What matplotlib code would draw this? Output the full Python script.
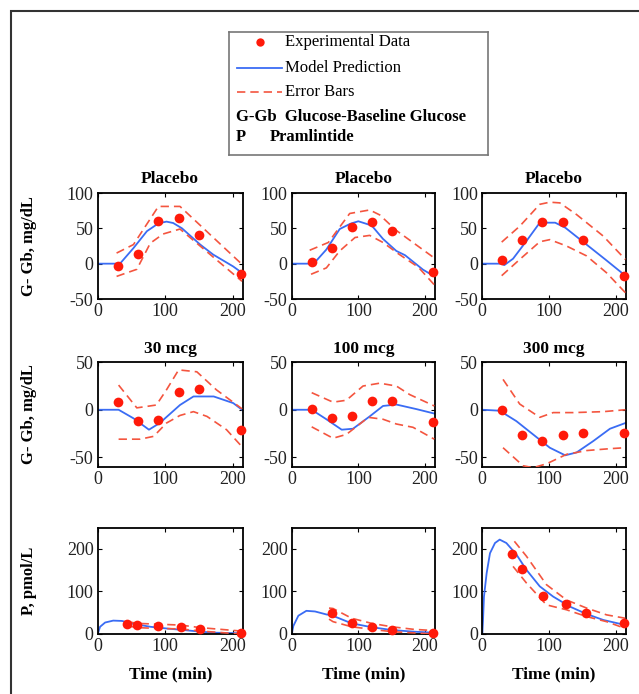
import numpy as np
import matplotlib
matplotlib.use('Agg')
import matplotlib.pyplot as plt
from matplotlib.lines import Line2D
from matplotlib.patches import Rectangle

plt.rcParams['font.family'] = ['Liberation Serif', 'DejaVu Serif']
plt.rcParams['axes.unicode_minus'] = False

# ---------------------------------------------------------------------------
# Glucose panels (G - Gb, mg/dL); observation times shared by rows 1-2
obs_t = [30, 60, 90, 120, 150, 212]

# Placebo (1)
a_obs = [-4, 13, 61, 65, 40, -14]
a_mt  = [0, 33, 53, 73, 90, 102, 112, 125, 152, 171, 201, 214]
a_m   = [0, 0, 22, 46, 57, 59.5, 57.5, 50, 27, 13, -4, -13]
a_ut  = [28, 53, 90, 122, 214]
a_u   = [15, 27, 81, 81, -1]
a_lt  = [28, 58, 78, 97, 122, 214]
a_l   = [-18, -8, 29, 42, 49, -25]

# Placebo (2)
b_obs = [2.4, 21.7, 51.7, 59, 46, -12]
b_mt  = [0, 33, 52, 72, 88, 100, 120, 137, 157, 170, 197, 214]
b_m   = [0, 0, 20, 49, 56.5, 60, 54, 35, 18, 12, -8.5, -18]
b_ut  = [27, 55, 87, 117, 132, 157, 214]
b_u   = [19, 30, 71, 76, 69, 47, 8]
b_lt  = [29, 52, 72, 95, 117, 137, 160, 190, 214]
b_l   = [-15, -6, 18, 37, 40, 30, 14, -5, -30]

# Placebo (3)
c_obs = [5, 34, 59, 59, 34, -17]
c_mt  = [0, 28, 33, 46, 66, 86, 109, 124, 156, 184, 214]
c_m   = [0, 0, -2, 7, 32, 58, 58, 51, 27, 6, -17]
c_ut  = [29, 56, 86, 101, 116, 141, 181, 214]
c_u   = [30.5, 53, 84, 87, 86, 69.5, 39, 6]
c_lt  = [29, 56, 86, 101, 126, 156, 186, 214]
c_l   = [-17, 6, 31, 34, 25, 11, -13, -41]

# 30 mcg
d_obs = [8, -12, -11, 19, 22, -21]
d_mt  = [0, 31, 53, 76, 92, 122, 142, 172, 201, 214]
d_m   = [0, 0, -9, -21, -14, 5, 14, 14, 7, 0]
d_ut  = [31, 58, 87, 102, 120, 147, 176, 214]
d_u   = [26, 2, 5, 21, 42, 40, 21, 1]
d_lt  = [31, 63, 83, 102, 122, 142, 162, 191, 214]
d_l   = [-31, -31, -28, -14, -6, -2, -7, -21, -39]

# 100 mcg
e_obs = [1, -9, -7, 9, 9, -12.6]
e_mt  = [0, 30, 52, 75, 92, 117, 137, 157, 187, 214]
e_m   = [0, 0, -10, -21, -20, -7, 4, 5.5, 0.7, -4]
e_ut  = [30, 62, 82, 107, 132, 157, 177, 214]
e_u   = [18, 8, 10, 25, 28, 25, 16, 4]
e_lt  = [30, 62, 82, 115, 137, 157, 182, 214]
e_l   = [-18, -30, -26, -8, -10, -15, -18.5, -31]

# 300 mcg
f_obs = [0, -27, -33, -27, -24, -24]
f_mt  = [0, 26, 51, 76, 101, 124, 141, 166, 191, 214]
f_m   = [0, -1, -12, -26, -40, -48, -45, -33, -20, -14]
f_ut  = [31, 56, 86, 106, 136, 181, 214]
f_u   = [32, 6, -8, -3, -3, -2, 0]
f_lt  = [31, 61, 76, 96, 126, 156, 191, 214]
f_l   = [-40, -59, -61, -57, -47, -43, -41, -40]

# Pramlintide panels (P, pmol/L)
g_ot  = [44, 59, 90, 123, 152, 212]
g_obs = [24, 20, 18, 16.5, 11, 3]
g_mt  = [0, 3.5, 11, 23, 36, 53, 78, 102, 127, 152, 176, 214]
g_m   = [0, 17, 27, 31.5, 30.7, 24, 17, 13, 9.4, 5.5, 3, 1.6]
g_ut  = [44, 59, 90, 123, 152, 212]
g_u   = [29, 25, 23, 21, 15, 7]
g_lt  = [44, 59, 90, 123, 152, 212]
g_l   = [19, 15, 13, 12, 7, 0]

h_ot  = [60, 90, 120, 150, 212]
h_obs = [49, 27, 16, 9.5, 3]
h_mt  = [0, 2.5, 10, 22, 35, 52, 60, 90, 120, 150, 183, 214]
h_m   = [0, 19, 43, 54.5, 53, 46, 44, 25, 16, 9.4, 5.5, 3]
h_ut  = [56, 62, 90, 120, 150, 183, 214]
h_u   = [61, 60, 37, 25, 17, 11, 8]
h_lt  = [56, 62, 90, 120, 150, 214]
h_l   = [35, 29, 17, 11, 5.5, 0]

i_ot  = [45, 60, 91, 125, 155, 212]
i_obs = [189, 153, 90, 71, 49, 25]
i_mt  = [0, 1, 2.5, 6.5, 11.5, 19, 26, 36, 51, 66, 86, 106, 131, 156, 181, 214]
i_m   = [0, 30, 88, 143, 190, 214, 222, 214, 187, 151, 112, 88, 64.5, 47, 33, 21]
i_ut  = [48, 66, 96, 126, 156, 186, 214]
i_u   = [218, 183, 116, 80, 61, 45, 37]
i_lt  = [46, 66, 96, 126, 156, 186, 214]
i_l   = [159, 120, 68.5, 57, 41, 29, 13]

titles_row1 = ['Placebo', 'Placebo', 'Placebo']
titles_row2 = ['30 mcg', '100 mcg', '300 mcg']
ylabel_glu = 'G- Gb, mg/dL'
ylabel_p = 'P, pmol/L'
xlabel = 'Time (min)'

# ---------------------------------------------------------------------------
W, H = 639, 694
fig = plt.figure(figsize=(W / 100, H / 100), dpi=100)

COL_X = [(97.7, 242.7), (291.7, 435), (482.3, 626)]
ROW_Y = [(193, 299), (362.3, 466.7), (527.7, 634)]

BLUE = '#3a6cf4'
RED = '#ff1a0a'
ERR = '#f4553f'


def px_axes(x0, x1, y0, y1):
    return fig.add_axes([x0 / W, 1 - y1 / H, (x1 - x0) / W, (y1 - y0) / H])


def panel(ax, ot, obs, mt, m, ut, u, lt, l):
    ax.plot(mt, m, color=BLUE, lw=1.3, zorder=2)
    ax.plot(ut, u, color=ERR, lw=1.2, ls=(0, (5, 3)), zorder=3)
    ax.plot(lt, l, color=ERR, lw=1.2, ls=(0, (5, 3)), zorder=3)
    ax.plot(ot, obs, 'o', color=RED, ms=7, mec='none', zorder=4, clip_on=False)
    ax.set_xlim(0, 215)
    ax.set_xticks([0, 100, 200])
    ax.tick_params(direction='in', top=True, right=True, length=3, width=0.8,
                   labelsize=13, pad=3, labelcolor='#222222')
    for s in ax.spines.values():
        s.set_linewidth(1.3)


rows = [
    [(obs_t, a_obs, a_mt, a_m, a_ut, a_u, a_lt, a_l),
     (obs_t, b_obs, b_mt, b_m, b_ut, b_u, b_lt, b_l),
     (obs_t, c_obs, c_mt, c_m, c_ut, c_u, c_lt, c_l)],
    [(obs_t, d_obs, d_mt, d_m, d_ut, d_u, d_lt, d_l),
     (obs_t, e_obs, e_mt, e_m, e_ut, e_u, e_lt, e_l),
     (obs_t, f_obs, f_mt, f_m, f_ut, f_u, f_lt, f_l)],
    [(g_ot, g_obs, g_mt, g_m, g_ut, g_u, g_lt, g_l),
     (h_ot, h_obs, h_mt, h_m, h_ut, h_u, h_lt, h_l),
     (i_ot, i_obs, i_mt, i_m, i_ut, i_u, i_lt, i_l)],
]

for r, row in enumerate(rows):
    for c, args in enumerate(row):
        ax = px_axes(*COL_X[c], *ROW_Y[r])
        panel(ax, *args)
        if r == 0:
            ax.set_ylim(-50, 100)
            ax.set_yticks([-50, 0, 50, 100])
            ax.set_title(titles_row1[c], fontsize=12.5, fontweight='bold', pad=7)
        elif r == 1:
            ax.set_ylim(-60, 50)
            ax.set_yticks([-50, 0, 50])
            ax.set_title(titles_row2[c], fontsize=12.5, fontweight='bold', pad=7)
        else:
            ax.set_ylim(0, 250)
            ax.set_yticks([0, 100, 200])
            ax.set_xlabel(xlabel, fontsize=12.5, fontweight='bold', labelpad=8)
        if c == 0:
            ax.set_ylabel(ylabel_glu if r < 2 else ylabel_p, fontsize=12,
                          fontweight='bold')
            ax.yaxis.set_label_coords(-0.42, 0.5)

# legend box
lax = px_axes(229, 488, 32, 155)
lax.set_xlim(0, 1)
lax.set_ylim(0, 1)
lax.set_xticks([])
lax.set_yticks([])
for s in lax.spines.values():
    s.set_edgecolor('#777777')
    s.set_linewidth(1.2)
lax.plot([0.12], [0.921], 'o', color=RED, ms=6, mec='none')
lax.add_line(Line2D([0.031, 0.205], [0.71, 0.71], color=BLUE, lw=1.3))
lax.add_line(Line2D([0.031, 0.205], [0.515, 0.515], color=ERR, lw=1.2, ls=(0, (5, 3))))
tx = 0.216
lax.text(tx, 0.921, 'Experimental Data', fontsize=12, va='center')
lax.text(tx, 0.71, 'Model Prediction', fontsize=12, va='center')
lax.text(tx, 0.515, 'Error Bars', fontsize=12, va='center')
lax.text(0.027, 0.311, 'G-Gb  Glucose-Baseline Glucose', fontsize=12,
         fontweight='bold', va='center')
lax.text(0.027, 0.149, 'P', fontsize=12, fontweight='bold', va='center')
lax.text(0.158, 0.149, 'Pramlintide', fontsize=12, fontweight='bold', va='center')

# outer frame of the figure panel
fig.add_artist(Rectangle((11 / W, -0.1), 1.0, 1.1 - 11 / H, transform=fig.transFigure,
                         fill=False, edgecolor='#333333', lw=1.5))

fig.savefig('out.png', dpi=100)
